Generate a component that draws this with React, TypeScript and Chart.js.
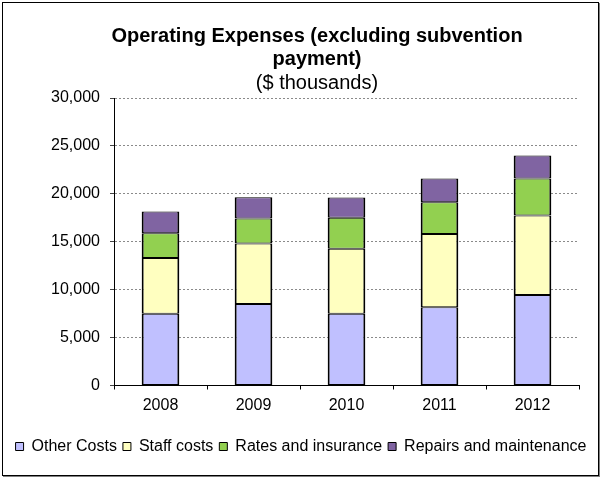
import React, { useEffect, useRef } from 'react';
import { Chart, registerables } from 'chart.js';

Chart.register(...registerables);

const categories = ['2008', '2009', '2010', '2011', '2012'];
const otherCosts = [7500, 8500, 7500, 8170, 9450];
const staffCosts = [5800, 6330, 6770, 7630, 8300];
const ratesInsurance = [2600, 2600, 3230, 3330, 3850];
const repairsMaintenance = [2250, 2220, 2125, 2470, 2400];
const seriesNames = ['Other Costs', 'Staff costs', 'Rates and insurance', 'Repairs and maintenance'];
const titleLines = ['Operating Expenses (excluding subvention', 'payment)'];
const subtitleText = '($ thousands)';
const yMin = 0;
const yMax = 30000;
const yStep = 5000;

const FONT = "'Liberation Sans', Arial, sans-serif";

const titlePlugin = {
  id: 'excelTitle',
  afterDraw(chart: any) {
    const ctx = chart.ctx as CanvasRenderingContext2D;
    ctx.save();
    ctx.fillStyle = '#000';
    ctx.textAlign = 'center';
    ctx.textBaseline = 'alphabetic';
    ctx.font = `bold 20px ${FONT}`;
    ctx.fillText(titleLines[0], 317, 42);
    ctx.fillText(titleLines[1], 317, 65);
    ctx.font = `20px ${FONT}`;
    ctx.fillText(subtitleText, 317, 89);
    ctx.restore();
  },
};

export default function App() {
  const canvasRef = useRef<HTMLCanvasElement | null>(null);

  useEffect(() => {
    const canvas = canvasRef.current;
    if (!canvas) return;
    const colors = ['#C0C0FF', '#FFFFC0', '#92D050', '#8064A2'];
    const values = [otherCosts, staffCosts, ratesInsurance, repairsMaintenance];
    const chart = new Chart(canvas, {
      type: 'bar',
      data: {
        labels: categories,
        datasets: values.map((data, i) => ({
          label: seriesNames[i],
          data,
          backgroundColor: colors[i],
          borderColor: '#000',
          borderWidth: { top: 1, bottom: 1, left: 2, right: 2 },
          borderSkipped: false,
          inflateAmount: 0,
          barPercentage: 0.405,
          categoryPercentage: 1,
        })),
      },
      options: {
        responsive: false,
        maintainAspectRatio: false,
        animation: false,
        devicePixelRatio: 1,
        layout: { padding: { top: 98, bottom: 14.5, left: 0, right: 0 } },
        plugins: {
          title: { display: false },
          tooltip: { enabled: false },
          legend: {
            position: 'bottom',
            labels: {
              boxWidth: 8,
              boxHeight: 8,
              padding: 6,
              color: '#000',
              font: { family: FONT, size: 16 },
              generateLabels: (chart: any) =>
                chart.data.datasets.map((ds: any, i: number) => ({
                  text: ds.label,
                  fillStyle: ds.backgroundColor,
                  strokeStyle: '#000',
                  lineWidth: 1,
                  hidden: false,
                  datasetIndex: i,
                  fontColor: '#000',
                })),
            },
          },
        },
        scales: {
          x: {
            stacked: true,
            grid: {
              display: true,
              drawOnChartArea: false,
              drawTicks: true,
              tickLength: 4,
              offset: true,
              color: '#000',
              tickColor: '#000',
            },
            border: { display: true, color: '#000', width: 1 },
            ticks: { color: '#000', font: { family: FONT, size: 16 }, padding: 6 },
            afterFit: (s: any) => {
              s.height = 47;
            },
          },
          y: {
            stacked: true,
            min: yMin,
            max: yMax,
            ticks: {
              stepSize: yStep,
              color: '#000',
              font: { family: FONT, size: 16 },
              padding: 10,
              callback: (v: any) => Number(v).toLocaleString('en-US'),
            },
            grid: {
              color: '#8a8a8a',
              lineWidth: 1,
              tickLength: 4,
              tickColor: '#444',
              tickBorderDash: [],
              drawTicks: true,
            },
            border: { display: true, color: '#000', width: 1, dash: [2, 2] },
            afterFit: (s: any) => {
              s.width = 114;
            },
          },
          yRight: {
            type: 'linear',
            position: 'right',
            display: true,
            grid: { display: false, drawTicks: false },
            border: { display: false },
            ticks: { display: false },
            afterFit: (s: any) => {
              s.width = 23;
            },
          },
        },
      } as any,
      plugins: [titlePlugin],
    });
    return () => chart.destroy();
  }, []);

  return (
    <div style={{ position: 'fixed', left: 0, top: 0, width: 602, height: 479, background: '#fff' }}>
      <div
        style={{
          position: 'absolute',
          left: 2,
          top: 2,
          width: 597,
          height: 474,
          boxSizing: 'border-box',
          border: '1px solid #000',
          boxShadow: '1px 1px 0 #808080',
        }}
      />
      <canvas
        ref={canvasRef}
        width={602}
        height={479}
        style={{ position: 'absolute', left: 0, top: 0, width: 602, height: 479 }}
      />
    </div>
  );
}
